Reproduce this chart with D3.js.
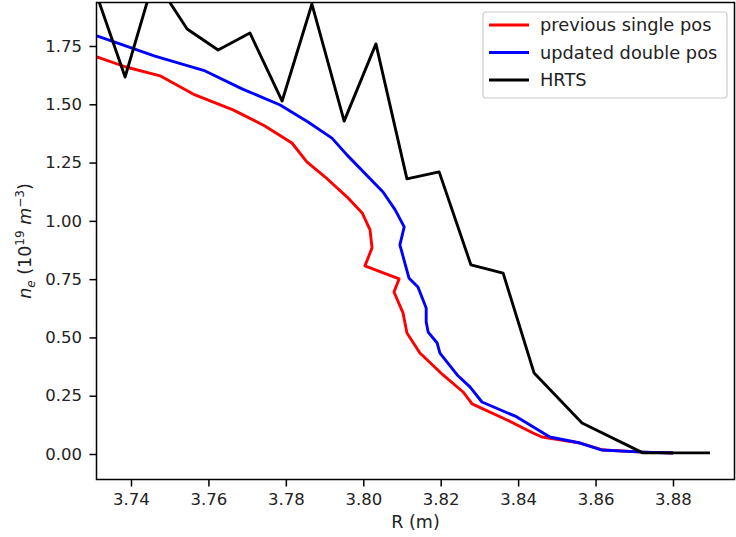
<!DOCTYPE html>
<html>
<head>
<meta charset="utf-8">
<script src="https://cdn.jsdelivr.net/npm/d3@7"></script>
<style>
  body { margin: 0; background: #fff; }
  text { font-family: "DejaVu Sans", sans-serif; fill: #222; }
</style>
</head>
<body>
<svg id="chart" width="736" height="537"></svg>
<script>
// previous single pos
const rPrev = [3.73118, 3.73848, 3.74750, 3.75653, 3.76636, 3.77458, 3.78157, 3.78542, 3.79009, 3.79577,
  3.79972, 3.80175, 3.80226, 3.80043, 3.80925, 3.80793, 3.81027, 3.81128, 3.81463, 3.82061,
  3.82578, 3.82811, 3.83714, 3.84383, 3.84616, 3.85600, 3.86198, 3.87222, 3.88003];
const nePrev = [1.703, 1.661, 1.622, 1.540, 1.476, 1.407, 1.334, 1.253, 1.189, 1.103,
  1.034, 0.961, 0.884, 0.807, 0.751, 0.695, 0.605, 0.519, 0.433, 0.339,
  0.266, 0.215, 0.146, 0.090, 0.073, 0.047, 0.017, 0.008, 0.004];

// updated double pos
const rDouble = [3.73118, 3.74619, 3.75916, 3.76869, 3.77853, 3.78573, 3.79191, 3.79577, 3.80510, 3.80824,
  3.81057, 3.80946, 3.81179, 3.81412, 3.81625, 3.81625, 3.81676, 3.81909, 3.81980, 3.82426,
  3.82761, 3.83065, 3.83967, 3.84819, 3.85600, 3.86167, 3.87222, 3.88003];
const neDouble = [1.793, 1.707, 1.643, 1.566, 1.497, 1.424, 1.355, 1.283, 1.124, 1.047,
  0.974, 0.897, 0.755, 0.716, 0.626, 0.566, 0.523, 0.476, 0.433, 0.339,
  0.287, 0.223, 0.159, 0.073, 0.047, 0.017, 0.008, 0.004];

// HRTS
const rHrts = [3.72986, 3.73848, 3.74598, 3.75450, 3.76251, 3.77072, 3.77904, 3.78674, 3.79506, 3.80327,
  3.81128, 3.81960, 3.82781, 3.83612, 3.84413, 3.85650, 3.87222, 3.88956];
const neHrts = [2.03, 1.617, 2.04, 1.823, 1.733, 1.806, 1.514, 1.93, 1.428, 1.759,
  1.180, 1.210, 0.811, 0.776, 0.347, 0.133, 0.005, 0.005];

const xTicks = [3.74, 3.76, 3.78, 3.80, 3.82, 3.84, 3.86, 3.88];
const yTicks = [0, 0.25, 0.5, 0.75, 1.0, 1.25, 1.5, 1.75];

const seriesNames = ["previous single pos", "updated double pos", "HRTS"];
const seriesColors = ["#ff0000", "#0000ff", "#000000"];

// zones du graphique
const margin = { left: 96.5, top: 2.5, right: 1.5, bottom: 57.5 };
const width = 736, height = 537;
const svg = d3.select("#chart");

const x = d3.scaleLinear().domain([3.73109, 3.89589]).range([margin.left, width - margin.right]);
const y = d3.scaleLinear().domain([-0.1094, 1.9366]).range([height - margin.bottom, margin.top]);

svg.append("clipPath").attr("id", "clip")
  .append("rect")
  .attr("x", margin.left).attr("y", margin.top)
  .attr("width", width - margin.right - margin.left)
  .attr("height", height - margin.bottom - margin.top);

const series = [
  { r: rPrev, ne: nePrev },
  { r: rDouble, ne: neDouble },
  { r: rHrts, ne: neHrts }
];

const line = d3.line().x(d => x(d[0])).y(d => y(d[1]));

const plot = svg.append("g").attr("clip-path", "url(#clip)");
series.forEach((s, i) => {
  plot.append("path")
    .datum(s.r.map((r, k) => [r, s.ne[k]]))
    .attr("fill", "none")
    .attr("stroke", seriesColors[i])
    .attr("stroke-width", 2.9)
    .attr("stroke-linejoin", "round")
    .attr("d", line);
});

// axes
const xAxis = d3.axisBottom(x).tickValues(xTicks).tickFormat(d3.format(".2f")).tickSizeOuter(0).tickSize(7).tickPadding(7);
const yAxis = d3.axisLeft(y).tickValues(yTicks).tickFormat(d3.format(".2f")).tickSizeOuter(0).tickSize(7).tickPadding(7.5);

const gx = svg.append("g").attr("transform", `translate(0,${height - margin.bottom})`).call(xAxis);
const gy = svg.append("g").attr("transform", `translate(${margin.left},0)`).call(yAxis);
[gx, gy].forEach(g => {
  g.select(".domain").remove();
  g.selectAll(".tick line").attr("stroke", "#000").attr("stroke-width", 1.5);
  g.selectAll(".tick text").attr("font-size", 16.5).attr("font-family", "DejaVu Sans").attr("fill", "#222");
});

// cadre
svg.append("rect")
  .attr("x", margin.left).attr("y", margin.top)
  .attr("width", width - margin.right - margin.left)
  .attr("height", height - margin.bottom - margin.top)
  .attr("fill", "none").attr("stroke", "#000").attr("stroke-width", 1.5);

// titres des axes
svg.append("text")
  .attr("x", (margin.left + width - margin.right) / 2)
  .attr("y", 528)
  .attr("text-anchor", "middle")
  .attr("font-size", 17.5)
  .text("R (m)");

const yl = svg.append("text")
  .attr("transform", `translate(31,${(margin.top + height - margin.bottom) / 2}) rotate(-90)`)
  .attr("text-anchor", "middle")
  .attr("font-size", 17.5);
yl.append("tspan").attr("font-style", "italic").text("n");
yl.append("tspan").attr("font-style", "italic").attr("font-size", 12).attr("dy", 4).text("e");
yl.append("tspan").attr("dy", -4).text("\u00a0(10");
yl.append("tspan").attr("font-size", 12).attr("dy", -7).text("19");
yl.append("tspan").attr("dy", 7).text("\u00a0");
yl.append("tspan").attr("font-style", "italic").text("m");
yl.append("tspan").attr("font-size", 12).attr("dy", -7).text("\u22123");
yl.append("tspan").attr("dy", 7).text(")");

// légende
const legend = svg.append("g");
legend.append("rect")
  .attr("x", 483).attr("y", 12).attr("width", 244).attr("height", 86)
  .attr("rx", 3).attr("fill", "#fff").attr("fill-opacity", 0.8)
  .attr("stroke", "#cccccc").attr("stroke-width", 1.2);
seriesNames.forEach((name, i) => {
  const ly = 25 + i * 27.5;
  legend.append("line")
    .attr("x1", 489).attr("x2", 529).attr("y1", ly).attr("y2", ly)
    .attr("stroke", seriesColors[i]).attr("stroke-width", 2.9);
  legend.append("text")
    .attr("x", 540).attr("y", ly + 6)
    .attr("font-size", 17.8)
    .text(name);
});
</script>
</body>
</html>
